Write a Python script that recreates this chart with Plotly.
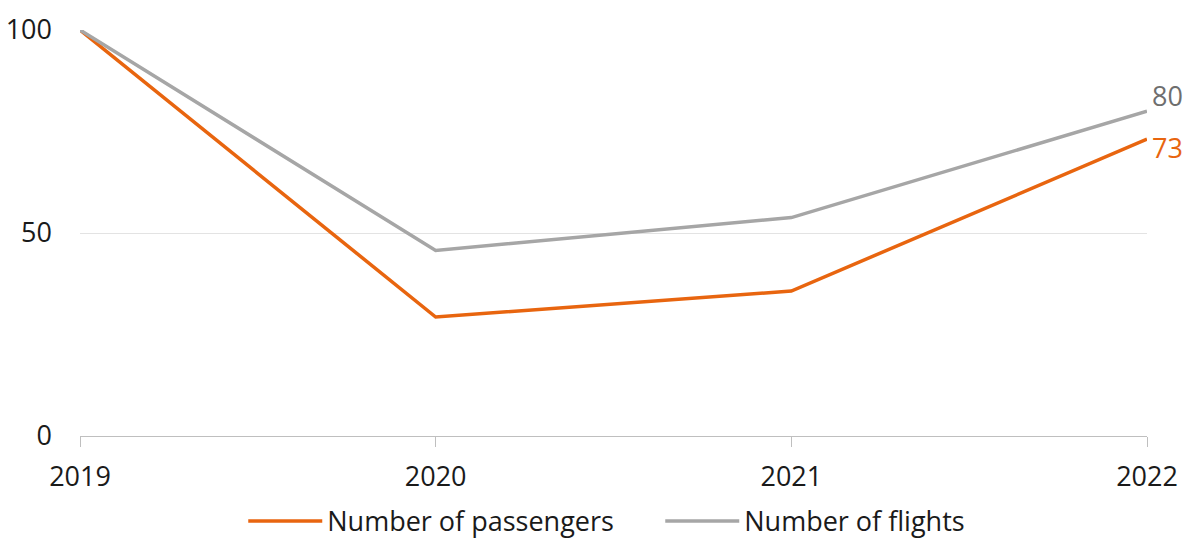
import plotly.graph_objects as go

years = ["2019", "2020", "2021", "2022"]
passengers = [100, 29.3, 35.7, 73.1]
flights = [100, 45.7, 53.8, 80]
end_labels = ["73", "80"]

orange = "#E8650F"
grey = "#A6A6A6"
font_family = "Open Sans, sans-serif"

fig = go.Figure()
fig.add_trace(go.Scatter(x=years, y=passengers, name="Number of passengers",
                         mode="lines", line=dict(color=orange, width=3.5)))
fig.add_trace(go.Scatter(x=years, y=flights, name="Number of flights",
                         mode="lines", line=dict(color=grey, width=3.5)))

# value labels at the end of each line
fig.add_annotation(xref="paper", x=1, y=passengers[-1], text=end_labels[0],
                   showarrow=False, xanchor="left", xshift=3, yshift=-8,
                   font=dict(size=27, color=orange, family=font_family))
fig.add_annotation(xref="paper", x=1, y=flights[-1], text=end_labels[1],
                   showarrow=False, xanchor="left", xshift=3, yshift=16,
                   font=dict(size=27, color="#6E6E6E", family=font_family))

fig.update_layout(
    width=1200, height=552,
    margin=dict(l=80, r=53, t=30, b=116, autoexpand=False),
    plot_bgcolor="white", paper_bgcolor="white",
    font=dict(family=font_family, size=27, color="#1a1a1a"),
    showlegend=True,
    legend=dict(orientation="h", x=0.153, xanchor="left", y=-0.15, yanchor="top",
                font=dict(size=27), itemwidth=74, entrywidth=328,
                entrywidthmode="pixels", tracegroupgap=0),
)
fig.update_xaxes(range=[0, 3], showgrid=False, showline=True, linecolor="#BFBFBF",
                 linewidth=1, ticks="outside", ticklen=10, tickcolor="#BFBFBF",
                 tickfont=dict(size=27), ticklabelstandoff=7, zeroline=False,
                 automargin=False)
fig.update_yaxes(range=[0, 100], tickvals=[0, 50, 100], showgrid=True,
                 gridcolor="#E3E3E3", gridwidth=1, zeroline=False, showline=False,
                 tickfont=dict(size=27), ticklabelstandoff=27, automargin=False)

fig.write_html("out.html", config={"displayModeBar": False},
               post_script="document.body.style.margin='0';")
